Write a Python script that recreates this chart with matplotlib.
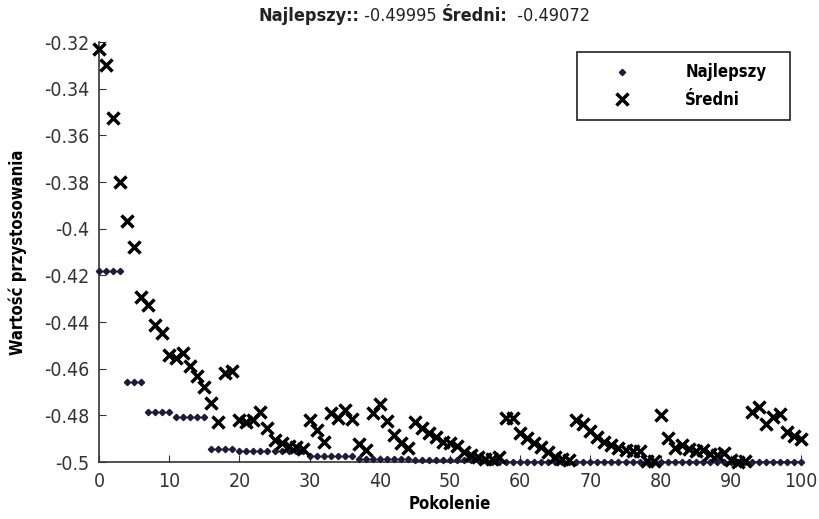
import numpy as np
import matplotlib
matplotlib.use('Agg')
import matplotlib.pyplot as plt

plt.rcParams['font.family'] = ['DejaVu Sans']
plt.rcParams['font.stretch'] = 'condensed'

# dane
pokolenie = np.arange(0, 101)

najlepszy = ([-0.418] * 4 + [-0.4655] * 3 + [-0.4784] * 4 + [-0.4806] * 5 +
             [-0.4944] * 4 + [-0.4953] * 10 + [-0.4975] * 7 + [-0.4985] * 8 +
             [-0.4993] * 11 + [-0.49995] * 45)

sredni = [-0.3232, -0.3300, -0.3524, -0.3800, -0.3966, -0.4080, -0.4292, -0.4326,
          -0.4412, -0.4446, -0.4540, -0.4554, -0.4532, -0.4588, -0.4630, -0.4678,
          -0.4747, -0.4830, -0.4618, -0.4610, -0.4820, -0.4830, -0.4820, -0.4785,
          -0.4854, -0.4906, -0.4920, -0.4930, -0.4936, -0.4944, -0.4820, -0.4863,
          -0.4914, -0.4790, -0.4810, -0.4775, -0.4815, -0.4923, -0.4948, -0.4790,
          -0.4753, -0.4826, -0.4884, -0.4918, -0.4940, -0.4830, -0.4854, -0.4876,
          -0.4893, -0.4914, -0.4918, -0.4930, -0.4957, -0.4970, -0.4979, -0.4987,
          -0.4987, -0.4979, -0.4813, -0.4813, -0.4876, -0.4897, -0.4918, -0.4936,
          -0.4957, -0.4979, -0.4987, -0.4991, -0.4820, -0.4837, -0.4867, -0.4893,
          -0.4914, -0.4927, -0.4940, -0.4949, -0.4953, -0.4953, -0.4996, -0.4996,
          -0.4800, -0.4897, -0.4940, -0.4927, -0.4944, -0.4953, -0.4949, -0.4966,
          -0.4970, -0.4962, -0.4991, -0.5000, -0.4996, -0.4785, -0.4764, -0.4837,
          -0.4807, -0.4794, -0.4871, -0.4888, -0.4901]

fig = plt.figure(figsize=(8.19, 5.19), dpi=100)
ax = fig.add_axes([99 / 819, 1 - 462 / 519, 702 / 819, 420 / 519])

ax.plot(pokolenie, najlepszy, linestyle='none', marker='D', markersize=3.2,
        color='#1c1c38', label='Najlepszy', clip_on=False, zorder=3)
ax.plot(pokolenie, sredni, linestyle='none', marker='x', markersize=9,
        markeredgewidth=2.5, color='black', label='Średni', clip_on=False, zorder=4)

ax.set_xlim(0, 100)
ax.set_ylim(-0.5, -0.32)
ax.set_xticks(range(0, 101, 10))
ax.set_yticks(np.arange(-0.5, -0.319, 0.02))
ax.set_yticklabels(['-0.5', '-0.48', '-0.46', '-0.44', '-0.42', '-0.4',
                    '-0.38', '-0.36', '-0.34', '-0.32'])
ax.tick_params(direction='in', length=5, labelsize=14, colors='#333333',
               labelcolor='#333333', pad=7)
ax.spines['top'].set_visible(False)
ax.spines['right'].set_visible(False)
for s in ['left', 'bottom']:
    ax.spines[s].set_color('#333333')
    ax.spines[s].set_linewidth(1.2)

ax.set_xlabel('Pokolenie', fontsize=12, fontweight='bold', labelpad=3)
ax.set_ylabel('Wartość przystosowania', fontsize=12, fontweight='bold', labelpad=12)

# legenda rozciągnięta na zadaną szerokość
leg = ax.legend(loc='upper left', mode='expand',
                bbox_to_anchor=((577 - 99) / 702, (462 - 56) / 420, 213 / 702, 0.01),
                fancybox=False, edgecolor='#333333', framealpha=1,
                prop={'weight': 'bold', 'size': 12}, handlelength=4.0,
                handletextpad=1.8, borderpad=0.7, labelspacing=0.55,
                borderaxespad=0)
leg.get_frame().set_linewidth(1.3)

# tytuł z częściami pogrubionymi i zwykłymi
czesci = [('Najlepszy::', 'bold'), (' -0.49995 ', 'normal'),
          ('Średni:', 'bold'), ('  -0.49072', 'normal')]
fig.canvas.draw()
r = fig.canvas.get_renderer()
x0 = 258
for txt, w in czesci:
    t = fig.text(x0 / 819, 1 - 16 / 519, txt, fontsize=13, fontweight=w,
                 va='center', ha='left', color='#222222')
    bb = t.get_window_extent(renderer=r)
    x0 += bb.width

fig.savefig('out.png', dpi=100)
